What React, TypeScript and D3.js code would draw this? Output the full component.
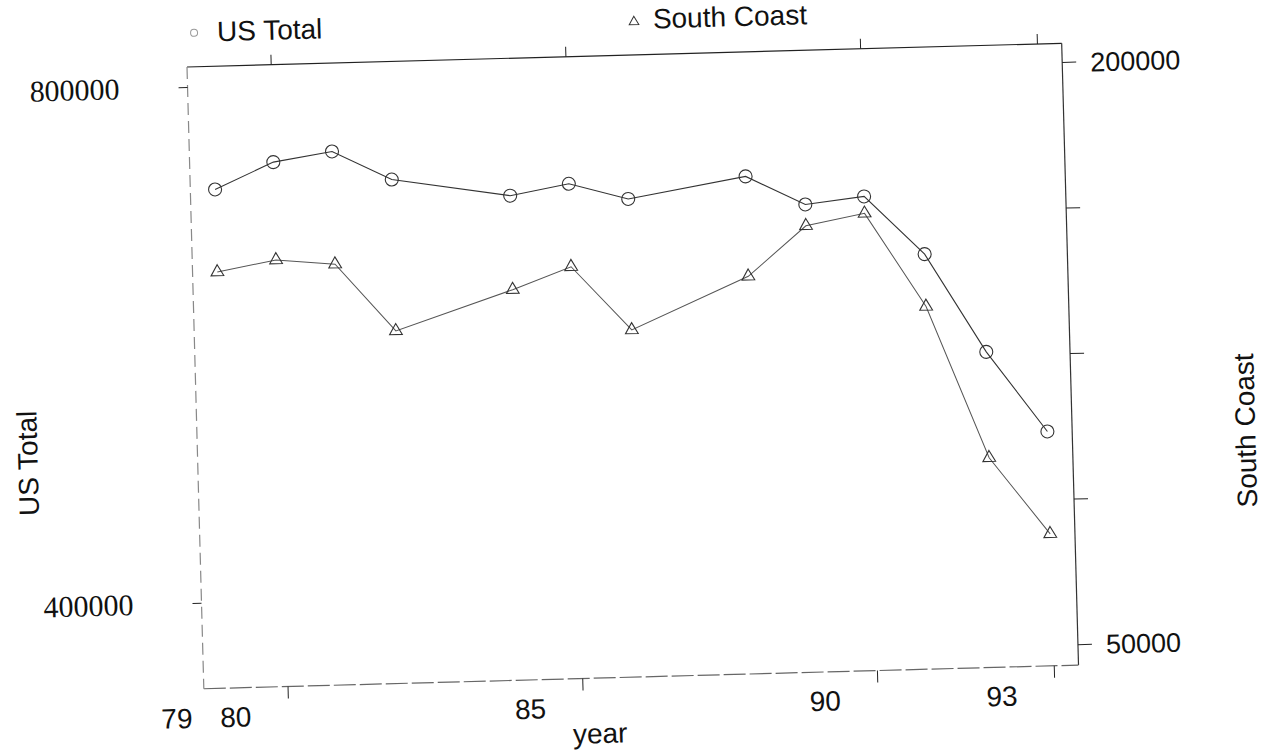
import { useEffect, useRef } from "react";
import * as d3 from "d3";

// values
const years = [79, 80, 81, 82, 84, 85, 86, 88, 89, 90, 91, 92, 93];
const usTotal = [720000, 740000, 747000, 724000, 709000, 717000, 704000, 719000, 696000, 701000, 655000, 578000, 515000];
const southCoast = [151800, 154500, 153000, 135400, 145200, 150700, 134000, 147000, 159600, 162400, 138000, 98600, 78600];

const yearTicks = [80, 85, 90, 93];
const yearLabels = [79, 80, 85, 90, 93];
const usTicks = [400000, 800000];
const scTicks = [50000, 87500, 125000, 162500, 200000];
const scLabels = [50000, 200000];

const App = () => {
  const ref = useRef<SVGSVGElement>(null);

  useEffect(() => {
    const width = 875,
      height = 622;
    const sans = "'Liberation Sans', Arial, sans-serif";
    const serif = "'Liberation Serif', 'Times New Roman', serif";

    const svg = d3.select(ref.current);
    svg.selectAll("*").remove();

    // the scan is tilted a little, so the whole plot is too
    const g = svg.append("g").attr("transform", "translate(187,67) rotate(-1.55)");

    const x = d3.scaleLinear().domain([78.58, 93.42]).range([0, width]);
    const yl = d3.scaleLinear().domain([333300, 815500]).range([height, 0]);
    const yr = d3.scaleLinear().domain([44600, 204800]).range([height, 0]);

    // frame
    const edge = (x1, y1, x2, y2, color, dash) =>
      g.append("line")
        .attr("x1", x1).attr("y1", y1).attr("x2", x2).attr("y2", y2)
        .attr("stroke", color).attr("stroke-width", 1.2)
        .attr("stroke-dasharray", dash);
    edge(0, 0, width, 0, "#222", null);
    edge(width, 0, width, height, "#333", null);
    edge(0, height, width, height, "#666", "22 4");
    edge(0, 0, 0, height, "#888", "12 6");

    const noDomain = (s) => s.select(".domain").remove();

    g.append("g")
      .attr("color", "#222")
      .call(d3.axisTop(x).tickValues(yearTicks).tickSize(10).tickFormat(() => ""))
      .call(noDomain);

    g.append("g")
      .attr("color", "#222")
      .attr("transform", `translate(0,${height})`)
      .call(d3.axisBottom(x).tickValues(yearTicks).tickSize(12).tickFormat(() => ""))
      .call(noDomain);

    // year labels sit to the left of their ticks in the original
    const xl = g.append("g")
      .attr("transform", `translate(-53,${height})`)
      .call(d3.axisBottom(x).tickValues(yearLabels).tickSize(0).tickPadding(19).tickFormat(d3.format("d")))
      .call(noDomain);
    xl.selectAll("text").attr("font-family", sans).attr("font-size", 28).attr("fill", "#111");

    const left = g.append("g")
      .attr("color", "#222")
      .call(d3.axisLeft(yl).tickValues(usTicks).tickSize(9).tickPadding(59).tickFormat(d3.format("d")))
      .call(noDomain);
    left.selectAll("text").attr("font-family", serif).attr("font-size", 30).attr("dy", "0.33em").attr("fill", "#111");

    const right = g.append("g")
      .attr("color", "#222")
      .attr("transform", `translate(${width},0)`)
      .call(
        d3.axisRight(yr).tickValues(scTicks).tickSize(14).tickPadding(14)
          .tickFormat((d) => (scLabels.includes(d) ? d3.format("d")(d) : ""))
      )
      .call(noDomain);
    right.selectAll("text").attr("font-family", sans).attr("font-size", 27).attr("dy", "0.36em").attr("fill", "#111");

    // axis titles
    g.append("text")
      .attr("transform", "translate(-160,392) rotate(-90)")
      .attr("text-anchor", "middle")
      .attr("font-family", sans).attr("font-size", 28).attr("fill", "#111")
      .text("US Total");
    g.append("text")
      .attr("transform", `translate(${width + 183},392) rotate(-90)`)
      .attr("text-anchor", "middle")
      .attr("font-family", sans).attr("font-size", 28).attr("fill", "#111")
      .text("South Coast");
    g.append("text")
      .attr("x", 395).attr("y", height + 65)
      .attr("text-anchor", "middle")
      .attr("font-family", sans).attr("font-size", 28).attr("fill", "#111")
      .text("year");

    // legend
    g.append("circle").attr("cx", 8).attr("cy", -34).attr("r", 3.5)
      .attr("fill", "none").attr("stroke", "#999");
    g.append("text").attr("x", 31).attr("y", -25)
      .attr("font-family", sans).attr("font-size", 28).attr("fill", "#111")
      .text("US Total");
    g.append("path").attr("d", d3.symbol(d3.symbolTriangle, 40)())
      .attr("transform", "translate(448,-33)")
      .attr("fill", "none").attr("stroke", "#333");
    g.append("text").attr("x", 467).attr("y", -26)
      .attr("font-family", sans).attr("font-size", 28).attr("fill", "#111")
      .text("South Coast");

    // series
    const usLine = d3.line<number>().x((d, i) => x(years[i])).y((d) => yl(d));
    const scLine = d3.line<number>().x((d, i) => x(years[i])).y((d) => yr(d));

    g.append("path").datum(southCoast)
      .attr("d", scLine).attr("fill", "none").attr("stroke", "#555").attr("stroke-width", 1);
    g.append("path").datum(usTotal)
      .attr("d", usLine).attr("fill", "none").attr("stroke", "#333").attr("stroke-width", 1.1);

    g.selectAll(".pt-us").data(usTotal).enter().append("circle")
      .attr("cx", (d, i) => x(years[i])).attr("cy", (d) => yl(d)).attr("r", 6.5)
      .attr("fill", "none").attr("stroke", "#333").attr("stroke-width", 1.1);

    g.selectAll(".pt-sc").data(southCoast).enter().append("path")
      .attr("d", d3.symbol(d3.symbolTriangle, 70)())
      .attr("transform", (d, i) => `translate(${x(years[i])},${yr(d)})`)
      .attr("fill", "none").attr("stroke", "#333").attr("stroke-width", 1.1);

    return () => {
      svg.selectAll("*").remove();
    };
  }, []);

  return (
    <svg
      ref={ref}
      width={1265}
      height={753}
      style={{ position: "absolute", left: 0, top: 0, background: "#fff" }}
    />
  );
};

export default App;
